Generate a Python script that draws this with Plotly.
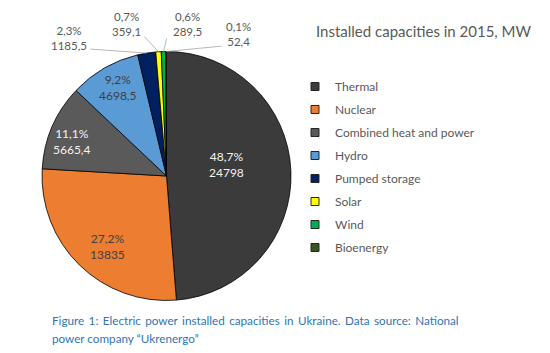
import math
import plotly.graph_objects as go

# ---- data ----
categories = ["Thermal", "Nuclear", "Combined heat and power", "Hydro",
              "Pumped storage", "Solar", "Wind", "Bioenergy"]
values = [24798, 13835, 5665.4, 4698.5, 1185.5, 359.1, 289.5, 52.4]
colors = ["#3B3B3B", "#ED7D31", "#5A5A5A", "#5B9BD5",
          "#002060", "#FFFF00", "#00B050", "#375623"]
label_colors = ["#F2F2F2", "#404040", "#F2F2F2", "#404040",
                "#595959", "#595959", "#595959", "#595959"]
title_text = "Installed capacities in 2015, MW"
caption_lines = [
    "Figure 1: Electric power installed capacities in Ukraine. Data source: National",
    "power company \u201cUkrenergo\u201d",
]
n_inside = 4  # first slices get their labels inside, others use leader lines

# ---- layout constants (pixels) ----
W, H = 550, 353
PIE_CX, PIE_CY, PIE_R = 166.5, 176.0, 124.5
label_px = [(226, 164), (107, 246), (72, 141), (118, 87),
            (69, 37.5), (126, 24), (187, 24), (238, 34)]
leader_tail_px = [None, None, None, None,
                  (89, 49), (143, 35), (167, 37), (223, 46)]
FONT = "Lato"
GRAY = "#595959"


def fmt(x, d):
    return f"{x:.{d}f}".replace(".", ",")


def fmt_val(v):
    return str(int(v)) if float(v).is_integer() else fmt(v, 1)


total = sum(values)
pct = [v / total * 100 for v in values]
label_txt = [f"{fmt(p, 1)}%<br>{fmt_val(v)}" for p, v in zip(pct, values)]

fig = go.Figure()
fig.add_trace(go.Pie(
    labels=categories, values=values, textinfo="none",
    marker=dict(colors=colors, line=dict(color="#000000", width=0.8)),
    sort=False, direction="clockwise", rotation=0,
    domain=dict(x=[(PIE_CX - PIE_R) / W, (PIE_CX + PIE_R) / W],
                y=[1 - (PIE_CY + PIE_R) / H, 1 - (PIE_CY - PIE_R) / H]),
    showlegend=False, hoverinfo="label+value+percent",
))

# legend entries
for name, c in zip(categories, colors):
    fig.add_trace(go.Scatter(
        x=[None], y=[None], mode="markers", name=name, legendgroup=name,
        marker=dict(symbol="square", size=8, color=c, line=dict(color="#262626", width=1)),
        hoverinfo="skip"))

annotations = []
cum = 0.0
for i, v in enumerate(values):
    frac_mid = (cum + v / 2) / total
    cum += v
    lx, ly = label_px[i]
    font = dict(family=FONT, size=12 if i < n_inside else 11.5, color=label_colors[i])
    annotations.append(dict(
        x=lx / W, y=1 - ly / H, xref="paper", yref="paper",
        xanchor="center", yanchor="middle", showarrow=False,
        text=label_txt[i], font=font))
    if i < n_inside:
        continue
    # leader line from label to the slice's outer edge (mid-angle)
    ang = frac_mid * 2 * math.pi
    hx = PIE_CX + PIE_R * math.sin(ang)
    hy = PIE_CY - PIE_R * math.cos(ang)
    tx, ty = leader_tail_px[i]
    annotations.append(dict(
        x=hx / W, y=1 - hy / H, xref="paper", yref="paper",
        ax=tx - hx, ay=ty - hy, axref="pixel", ayref="pixel",
        text="", showarrow=True, arrowhead=0, arrowwidth=0.8,
        arrowcolor="#A6A6A6", standoff=0, startstandoff=0))

annotations.append(dict(
    x=423.5 / W, y=1 - 31 / H, xref="paper", yref="paper", showarrow=False,
    xanchor="center", yanchor="middle",
    text=title_text, font=dict(family=FONT, size=15, color=GRAY)))
# first caption line is justified in the original: widen word gaps slightly
caption_render = [caption_lines[0].replace(" ", " \u2009"), caption_lines[1]]
for line, py in zip(caption_render, [320, 338]):
    annotations.append(dict(
        x=50 / W, y=1 - py / H, xref="paper", yref="paper", showarrow=False,
        xanchor="left", yanchor="middle", text=line,
        font=dict(family=FONT, size=11.7, color="#2E75B6")))

fig.update_layout(
    width=W, height=H, margin=dict(l=0, r=0, t=0, b=0),
    paper_bgcolor="white", plot_bgcolor="white",
    xaxis=dict(visible=False), yaxis=dict(visible=False),
    showlegend=True,
    legend=dict(x=295 / W, y=1 - 72 / H, xanchor="left", yanchor="top",
                font=dict(family=FONT, size=12, color=GRAY),
                tracegroupgap=4, traceorder="grouped",
                bgcolor="rgba(0,0,0,0)"),
    annotations=annotations,
)

fig.write_html("out.html")
